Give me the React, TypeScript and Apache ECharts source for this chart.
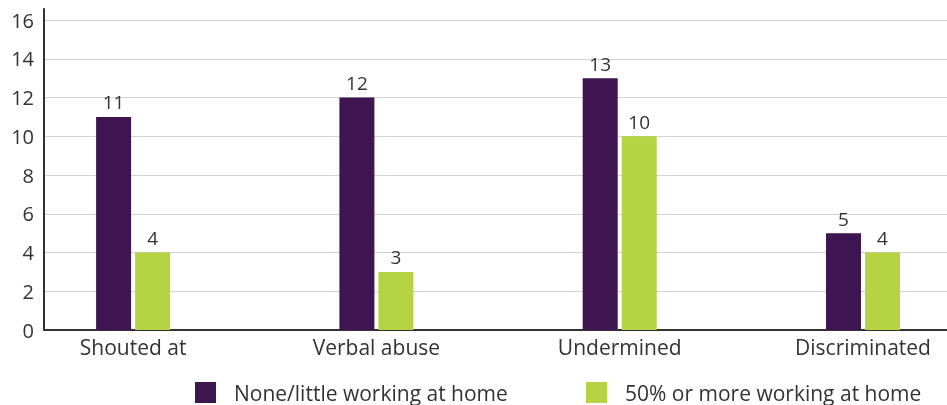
import React, { useEffect, useRef } from "react";
import * as echarts from "echarts";

const categories = ["Shouted at", "Verbal abuse", "Undermined", "Discriminated"];
const seriesNames = ["None/little working at home", "50% or more working at home"];
const noneLittle = [11, 12, 13, 5];
const fiftyPlus = [4, 3, 10, 4];
const colors = ["#3E1451", "#B5D342"];

const FONT = "'Open Sans', sans-serif";
const TXT = "#333333";

export default function App() {
  const ref = useRef<HTMLDivElement>(null);
  useEffect(() => {
    document.body.style.margin = "0";
    if (!ref.current) return;
    const chart = echarts.init(ref.current, undefined, { renderer: "svg" });
    const label = {
      show: true,
      position: "top",
      distance: 5,
      color: TXT,
      fontSize: 19,
      fontFamily: FONT,
    };
    const legendBase = {
      top: 382,
      padding: 0,
      itemWidth: 21,
      itemHeight: 21,
      icon: "rect",
      selectedMode: false,
      textStyle: { fontSize: 21, color: TXT, fontFamily: FONT, padding: [0, 0, 0, 13] },
    };
    chart.setOption({
      animation: false,
      textStyle: { fontFamily: FONT },
      grid: { left: 44, right: 0, top: 9, bottom: 75, containLabel: false },
      legend: [
        { ...legendBase, left: 195, data: [seriesNames[0]] },
        { ...legendBase, left: 586, data: [seriesNames[1]] },
      ],
      xAxis: {
        type: "value",
        min: -0.3662,
        max: 3.3453,
        splitLine: { show: false },
        axisTick: { show: false },
        axisLine: { show: true, onZero: false, lineStyle: { color: TXT, width: 2 } },
        axisLabel: {
          customValues: categories.map((_, i) => i),
          formatter: (v: number) => categories[Math.round(v)] ?? "",
          color: TXT,
          fontSize: 21,
          fontFamily: FONT,
          margin: 6,
        },
      },
      yAxis: {
        type: "value",
        min: 0,
        max: 16.57,
        interval: 2,
        axisLine: { show: true, onZero: false, lineStyle: { color: TXT, width: 2 } },
        axisTick: { show: false },
        splitLine: { show: true, showMaxLine: false, lineStyle: { color: "#d3d3d3", width: 1 } },
        axisLabel: {
          showMaxLabel: false,
          formatter: (v: number) => (v > 16 ? "" : String(v)),
          color: TXT,
          fontSize: 20,
          fontFamily: FONT,
          margin: 10,
        },
      },
      series: [
        {
          name: seriesNames[0],
          type: "bar",
          barWidth: 35,
          barGap: "11.4%",
          itemStyle: { color: colors[0] },
          label,
          data: noneLittle.map((v, i) => [i, v]),
        },
        {
          name: seriesNames[1],
          type: "bar",
          barWidth: 35,
          barGap: "11.4%",
          itemStyle: { color: colors[1] },
          label,
          data: fiftyPlus.map((v, i) => [i, v]),
        },
      ],
    });
    return () => chart.dispose();
  }, []);
  return <div ref={ref} style={{ width: 947, height: 405, position: "fixed", left: 0, top: 0 }} />;
}
